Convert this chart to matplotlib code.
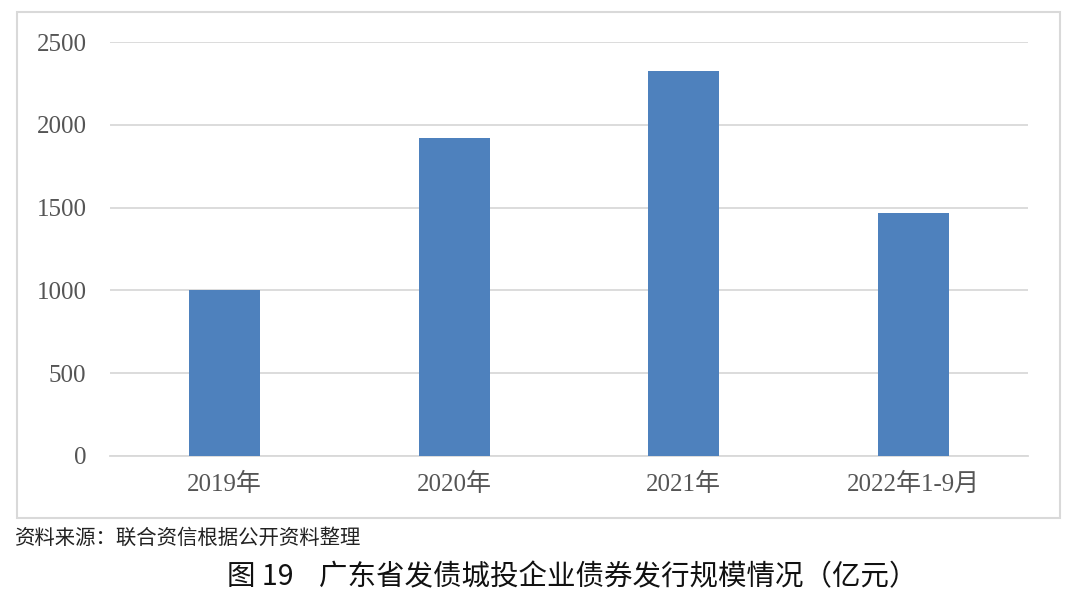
import matplotlib
matplotlib.use("Agg")
import matplotlib.pyplot as plt
from matplotlib.patches import Rectangle

plt.rcParams['font.family'] = ['Liberation Serif', 'Noto Sans CJK SC', 'DejaVu Sans']

# data (亿元)
years = ['2019年', '2020年', '2021年', '2022年1-9月']
amounts = [1002, 1920, 2325, 1467]
yticks = [0, 500, 1000, 1500, 2000, 2500]

fig = plt.figure(figsize=(10.8, 6.01), dpi=100)
ax = fig.add_axes([0.1019, 0.2413, 0.85, 0.6888])

# outer frame around the chart
fig.patches.append(Rectangle((17 / 1080, 1 - 518 / 601), 1043 / 1080, 506 / 601,
                             transform=fig.transFigure, fill=False,
                             edgecolor='#D9D9D9', linewidth=1.5))

x = range(len(years))
ax.bar(x, amounts, width=0.31, color='#4E81BD', zorder=3)

ax.set_xlim(-0.5, len(years) - 0.5)
ax.set_ylim(0, 2500)
ax.set_yticks(yticks)
ax.set_yticklabels([str(t) for t in yticks])
ax.set_xticks(list(x))
ax.set_xticklabels(years)
ax.grid(axis='y', color='#D9D9D9', linewidth=1.3, zorder=0)
for s in ['top', 'right', 'left']:
    ax.spines[s].set_visible(False)
ax.spines['bottom'].set_color('#D9D9D9')
ax.spines['bottom'].set_linewidth(1.3)
ax.tick_params(axis='both', length=0, labelsize=18, colors='#555555')
ax.tick_params(axis='y', pad=17)
ax.tick_params(axis='x', pad=12)

fig.text(15 / 1080, 1 - 538 / 601, '资料来源：联合资信根据公开资料整理',
         fontsize=14.7, family=['Noto Sans CJK SC', 'DejaVu Sans'],
         color='#222222', va='center', ha='left')
fig.text(572 / 1080, 1 - 577 / 601, '图 19    广东省发债城投企业债券发行规模情况（亿元）',
         fontsize=20.5, family=['Noto Sans CJK SC', 'DejaVu Sans'],
         color='#111111', va='center', ha='center')

fig.savefig('out.png', dpi=100)
